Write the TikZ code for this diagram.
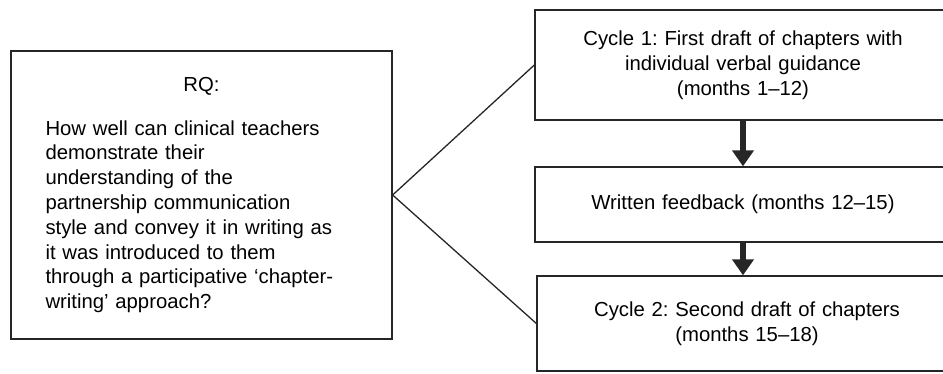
\documentclass[tikz,border=0pt]{standalone}
\usepackage{fontspec}
\setmainfont{Liberation Sans}
\usetikzlibrary{arrows.meta}
\tikzstyle{boxes} = [rectangle, draw=black!85, line width=1.3pt, inner sep=0pt,
font=\fontsize{20.3}{24.8}\selectfont]
\tikzstyle{arrow} = [line width=6pt, draw=black!85, -{Triangle[width=21pt,length=16pt]}]
\tikzstyle{link} = [line width=1.3pt, draw=black!85]

\begin{document}
\frenchspacing
\begin{tikzpicture}[x=1pt, y=1pt]
        \useasboundingbox (0,0) rectangle (943,-374);

        \node[boxes, minimum width=381pt, minimum height=288pt, text width=312pt] (rq) at (201.5,-195)
        {{\centering RQ:\par}\vspace{19pt}{\raggedright How well can clinical teachers\\
        demonstrate their\\ understanding of the\\ partnership communication\\
        style and convey it in writing as\\ it was introduced to them\\
        through a participative ‘chapter-\\ writing’ approach?\par}};

        \node[boxes, minimum width=416pt, minimum height=110pt, text width=390pt, align=center] (c1) at (743,-65)
        {Cycle 1: First draft of chapters with\\ individual verbal guidance\\ (months 1–12)};
        \node[boxes, minimum width=416pt, minimum height=75pt, text width=390pt, align=center] (fb) at (743,-204.5)
        {Written feedback (months 12–15)};
        \node[boxes, minimum width=420pt, minimum height=95pt, text width=390pt, align=center] (c2) at (747,-323.5)
        {Cycle 2: Second draft of chapters\\ (months 15–18)};

        \draw[link] (rq.east) -- (c1.west);
        \draw[link] (rq.east) -- (c2.west);

        \draw[arrow] (c1.south) -- (fb.north);
        \draw[arrow] (fb.south) -- (fb.south |- c2.north);

    \end{tikzpicture}
\end{document}
